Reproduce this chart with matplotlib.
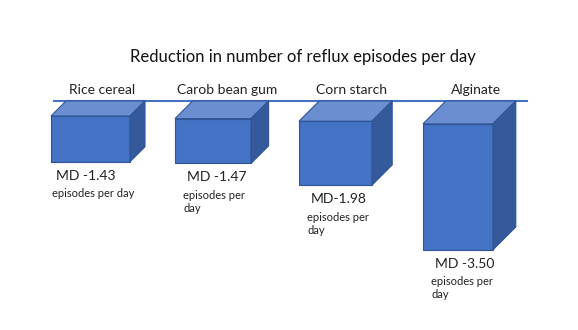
import matplotlib
matplotlib.use('Agg')
import matplotlib.pyplot as plt
from matplotlib.patches import Polygon

# Data: mean difference in reflux episodes per day
categories = ['Rice cereal', 'Carob bean gum', 'Corn starch', 'Alginate']
values = [-1.43, -1.47, -1.98, -3.50]
md_labels = ['MD -1.43', 'MD -1.47', 'MD-1.98', 'MD -3.50']
unit_labels = ['episodes per day', 'episodes per\nday', 'episodes per\nday', 'episodes per\nday']

FRONT = '#4472C4'
TOP = '#6A8ED0'
SIDE = '#345A9C'
EDGE = '#2F5597'

plt.rcParams['font.family'] = ['Lato', 'DejaVu Sans']

W, H = 578, 330
fig = plt.figure(figsize=(W / 100, H / 100), dpi=100)
ax = fig.add_axes([0, 0, 1, 1])

# pixel scales (px per data unit)
sx, sy = 122.5, 42.5
ax.set_xlim(-90.5 / sx, (W - 90.5) / sx)
ax.set_ylim(-(H - 101) / sy, 101 / sy)
ax.axis('off')

# baseline
ax.plot([-36.5 / sx, 436.5 / sx], [0, 0], color=FRONT, lw=1.5, zorder=1)

for i, (cat, v) in enumerate(zip(categories, values)):
    # oblique depth grows and width shrinks slightly to the right (perspective)
    dxp = 15 + 2.6 * i
    half = (39.5 - 1.5 * i) / sx
    dx, dy = dxp / sx, dxp / sy
    x0, x1 = i - half, i + half
    front = Polygon([(x0, -dy), (x1, -dy), (x1, v), (x0, v)], closed=True,
                    fc=FRONT, ec=EDGE, lw=0.8, zorder=3)
    top = Polygon([(x0, -dy), (x1, -dy), (x1 + dx, 0), (x0 + dx, 0)], closed=True,
                  fc=TOP, ec=EDGE, lw=0.8, zorder=3)
    side = Polygon([(x1, -dy), (x1 + dx, 0), (x1 + dx, v + dy), (x1, v)], closed=True,
                   fc=SIDE, ec=EDGE, lw=0.8, zorder=3)
    for p in (front, top, side):
        ax.add_patch(p)

    ax.annotate(cat, xy=(i + dx * 0.8, 0), xytext=(0, 5), textcoords='offset points',
                ha='center', va='baseline', fontsize=10, color='#222222')
    xo = 2 if i == 0 else 7
    ax.annotate(md_labels[i], xy=(x0, v), xytext=(xo + 1.5, -10),
                textcoords='offset points', ha='left', va='center',
                fontsize=10, color='#222222')
    ax.annotate(unit_labels[i], xy=(x0, v), xytext=(xo - 1, -19),
                textcoords='offset points', ha='left', va='top',
                fontsize=8, color='#222222', linespacing=1.25)

fig.text(303 / W, 1 - 57 / H, 'Reduction in number of reflux episodes per day',
         ha='center', va='center', fontsize=12, color='#111111')

fig.savefig('out.png', dpi=100)
